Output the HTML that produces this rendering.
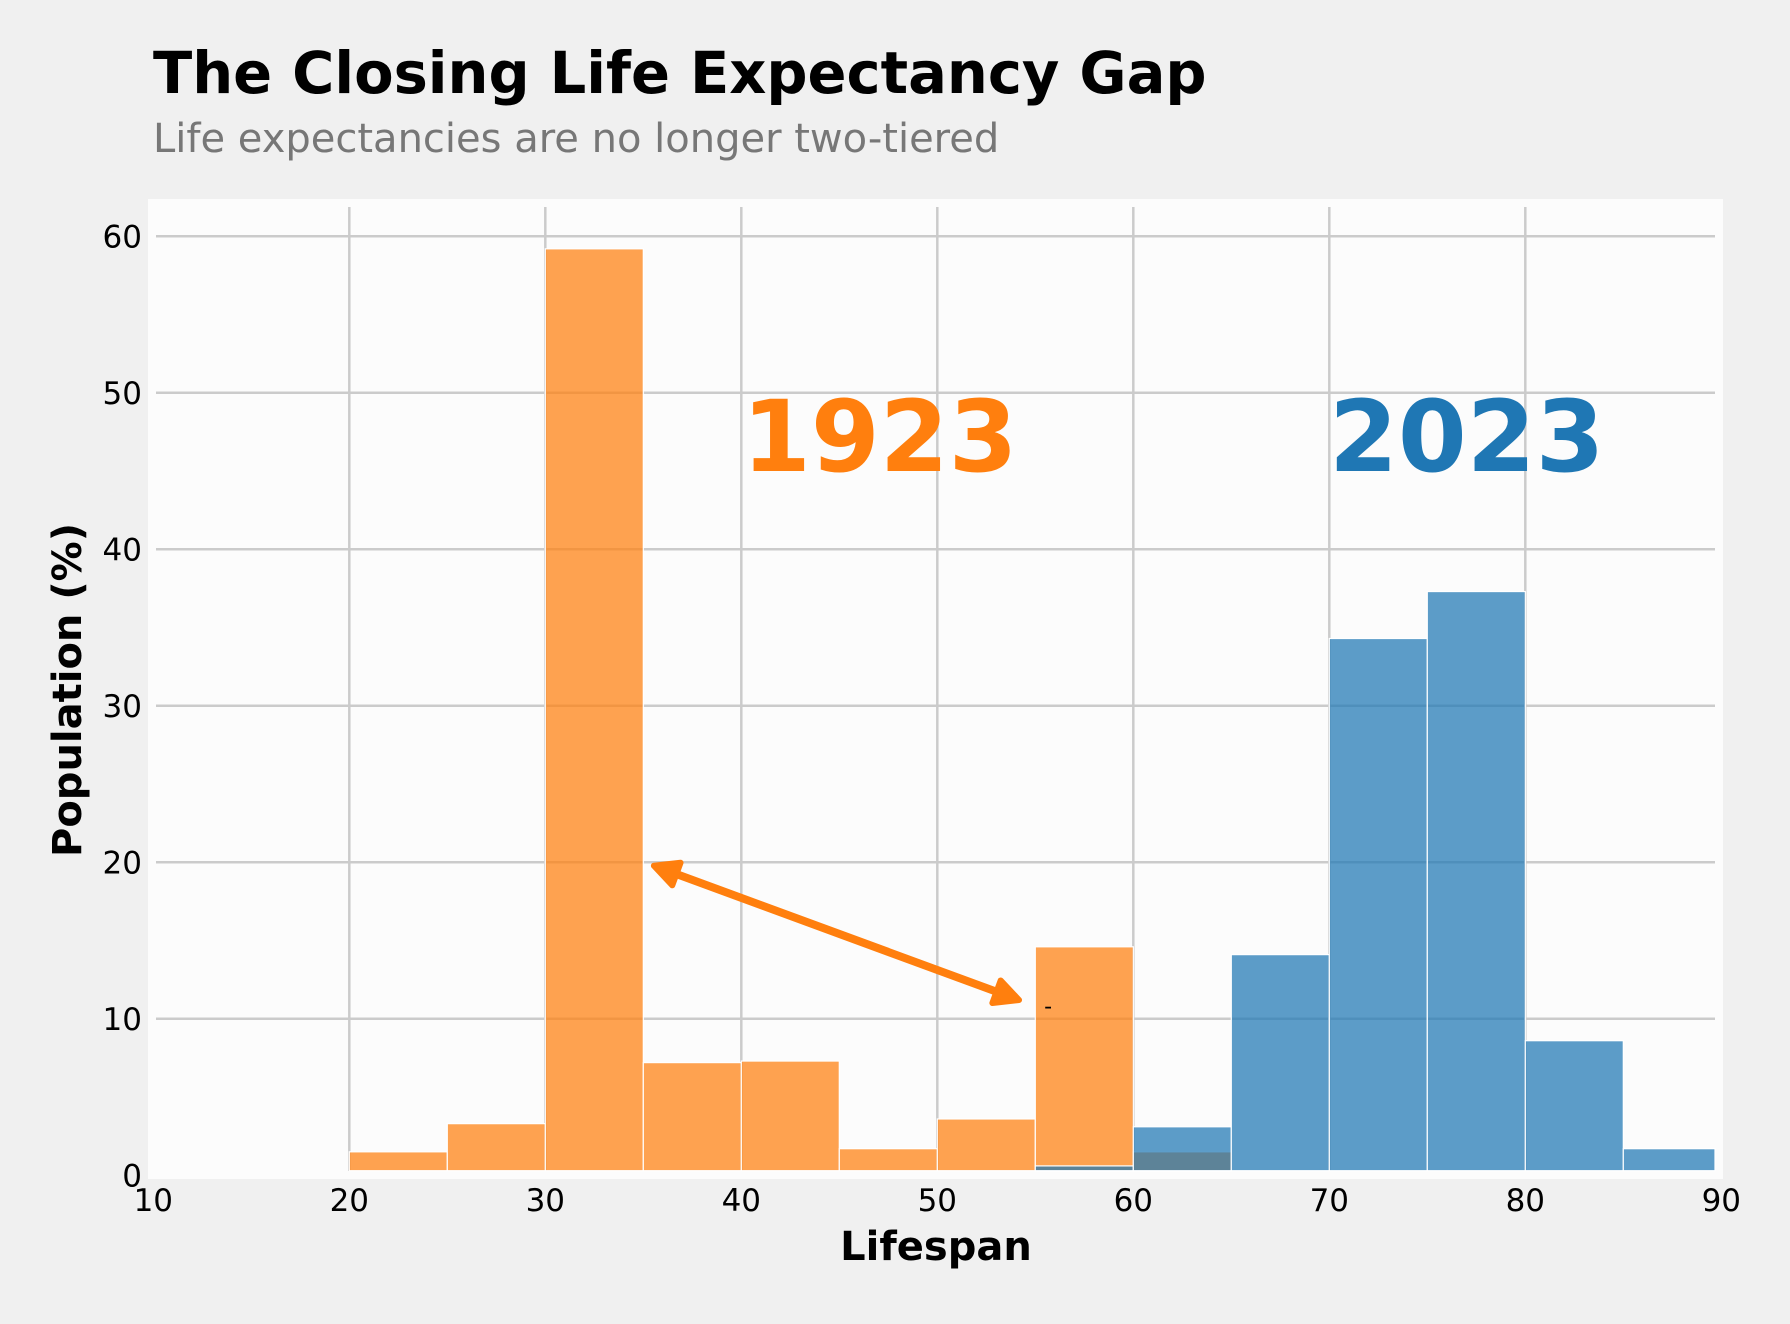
<!DOCTYPE html>
<html><head><meta charset="utf-8"><style>
html,body{margin:0;padding:0;background:#f0f0f0;}
svg text{font-family:"DejaVu Sans","Liberation Sans",sans-serif;}
</style></head><body>
<svg id="chart" width="1790" height="1319" viewBox="0 0 1790 1319" xmlns="http://www.w3.org/2000/svg">
<rect width="1790" height="1319" fill="#f0f0f0"/>
<text x="153" y="93" font-size="57.5" font-weight="bold" fill="#000">The Closing Life Expectancy Gap</text>
<text x="153" y="152" font-size="40" fill="#777">Life expectancies are no longer two-tiered</text>
<rect x="148" y="199" width="1575" height="980" fill="#fcfcfc"/>
<g id="grid"></g>
<g id="bars"></g>
<g id="ticks"></g>
<text x="742" y="471" font-size="99" font-weight="bold" fill="#ff7f0e">1923</text>
<text x="1329" y="471" font-size="99" font-weight="bold" fill="#1f77b4">2023</text>
<g id="annot"></g>
<text x="936" y="1260" font-size="40" font-weight="bold" text-anchor="middle">Lifespan</text>
<text transform="translate(81,690) rotate(-90)" font-size="40" font-weight="bold" text-anchor="middle">Population (%)</text>
</svg>
<script>
const binEdges = [20,25,30,35,40,45,50,55,60,65,70,75,80,85,90];
const pop1923 = [1.5,3.3,59.2,7.2,7.3,1.7,3.6,14.6,1.5,0,0,0,0,0];
const pop2023 = [0,0,0,0,0,0,0,0.6,3.1,14.1,34.3,37.3,8.6,1.7];
const xTicks = [10,20,30,40,50,60,70,80,90];
const yTicks = [0,10,20,30,40,50,60];
const arrowStart = [54.17,11.2];
const arrowEnd = [35.54,19.78];

const NS="http://www.w3.org/2000/svg";
const X=v=>349.3+(v-20)*19.6;
const Y=v=>1175.3-15.65*v;
const BASE=1170.7;
function mk(tag,attrs,parent){const e=document.createElementNS(NS,tag);for(const k in attrs)e.setAttribute(k,attrs[k]);parent.appendChild(e);return e;}
const grid=document.getElementById('grid'),bars=document.getElementById('bars'),ticks=document.getElementById('ticks'),annot=document.getElementById('annot');
yTicks.forEach(t=>{
  if(t>0){
    const l=mk('line',{x1:156,x2:1715,y1:Y(t),y2:Y(t),stroke:'#cbcbcb','stroke-width':2.5},grid);
    
    
  }
  const tx=mk('text',{x:142,y:Y(t)+11,'font-size':31,'text-anchor':'end',fill:'#000'},ticks);
  tx.textContent=t;
  
  
});
xTicks.forEach(t=>{
  if(t>10&&t<90){
    const l=mk('line',{x1:X(t),x2:X(t),y1:207,y2:1171,stroke:'#cbcbcb','stroke-width':2.5},grid);
    
    
  }
  const tx=mk('text',{x:X(t),y:1211,'font-size':31,'text-anchor':'middle',fill:'#000'},ticks);
  tx.textContent=t;
  
  
});
function drawSeries(vals,color,name){
  vals.forEach((v,i)=>{
    if(v<=0)return;
    const x0=X(binEdges[i]),x1=Math.min(X(binEdges[i+1]),1715);
    const r=mk('rect',{x:x0,y:Y(v),width:x1-x0,height:BASE-Y(v),fill:color,'fill-opacity':0.72,stroke:'#fff','stroke-width':1.2},bars);
    
    
  });
}
drawSeries(pop1923,'#ff7f0e','bar-1923');
drawSeries(pop2023,'#1f77b4','bar-2023');
const ax0=X(arrowStart[0]),ay0=Y(arrowStart[1]),ax1=X(arrowEnd[0]),ay1=Y(arrowEnd[1]);
const dx=ax1-ax0,dy=ay1-ay0,L=Math.hypot(dx,dy),ux=dx/L,uy=dy/L,px=-uy,py=ux;
const hl=24,hw=12;
const ln=mk('line',{x1:ax0+ux*hl*0.8,y1:ay0+uy*hl*0.8,x2:ax1-ux*hl*0.8,y2:ay1-uy*hl*0.8,stroke:'#ff7f0e','stroke-width':8},annot);


[[ax1,ay1,1],[ax0,ay0,-1]].forEach(([tx,ty,s])=>{
  const bx=tx-s*ux*hl,by=ty-s*uy*hl;
  const p=mk('polygon',{points:`${tx},${ty} ${bx+px*hw},${by+py*hw} ${bx-px*hw},${by-py*hw}`,fill:'#ff7f0e',stroke:'#ff7f0e','stroke-width':6,'stroke-linejoin':'round'},annot);
  
  
});
const dash=mk('text',{x:X(55.45),y:Y(10.6)+4,'font-size':22,fill:'#000'},annot);
dash.textContent='-';


</script>
</body></html>
